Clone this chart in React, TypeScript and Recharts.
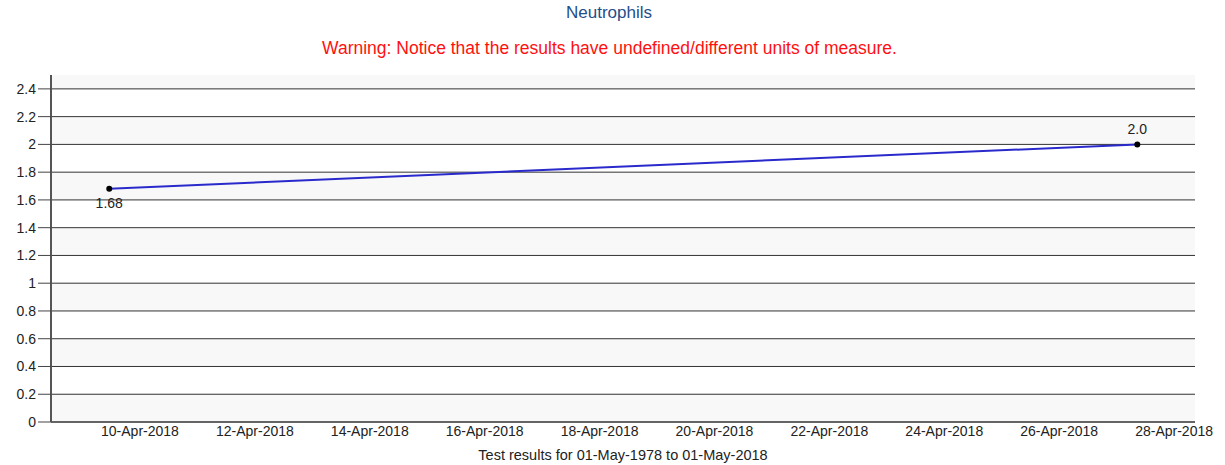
import React from 'react';
import { LineChart, Line, XAxis, YAxis, CartesianGrid, LabelList } from 'recharts';

const chartTitle = 'Neutrophils';
const warningText = 'Warning: Notice that the results have undefined/different units of measure.';
const xAxisTitle = 'Test results for 01-May-1978 to 01-May-2018';

const testDates = ['2018-04-09T11:10:00Z', '2018-04-27T08:38:00Z'];
const results = [1.68, 2.0];
const resultLabels = ['1.68', '2.0'];

const xTickDates = [
  '2018-04-10T00:00:00Z', '2018-04-12T00:00:00Z', '2018-04-14T00:00:00Z', '2018-04-16T00:00:00Z',
  '2018-04-18T00:00:00Z', '2018-04-20T00:00:00Z', '2018-04-22T00:00:00Z', '2018-04-24T00:00:00Z',
  '2018-04-26T00:00:00Z', '2018-04-28T00:00:00Z',
];
const xDomainDates = ['2018-04-08T10:50:00Z', '2018-04-28T08:44:00Z'];
const yTicks = [0, 0.2, 0.4, 0.6, 0.8, 1, 1.2, 1.4, 1.6, 1.8, 2, 2.2, 2.4];
const yDomain = [0, 2.5];
const monthNames = ['Jan', 'Feb', 'Mar', 'Apr', 'May', 'Jun', 'Jul', 'Aug', 'Sep', 'Oct', 'Nov', 'Dec'];

const toTs = (s: string) => new Date(s).getTime();

const data = testDates.map((d, i) => ({ t: toTs(d), v: results[i], label: resultLabels[i] }));

const fmtDate = (ts: number) => {
  const d = new Date(ts);
  const dd = String(d.getUTCDate()).padStart(2, '0');
  return `${dd}-${monthNames[d.getUTCMonth()]}-${d.getUTCFullYear()}`;
};

const FONT = '"Liberation Sans", Arial, sans-serif';

const PointLabel = (props: any) => {
  const { x, y, value, index } = props;
  const below = index === 0;
  return (
    <text
      x={x}
      y={below ? y + 14 : y - 15}
      textAnchor="middle"
      dominantBaseline="central"
      fontFamily={FONT}
      fontSize={14}
      fill="#222"
    >
      {value}
    </text>
  );
};

const mapValues = (args: any, values: number[]) => {
  const s = args?.yAxis?.scale;
  if (typeof s === 'function') return values.map((v) => s(v));
  if (s && typeof s.map === 'function') return values.map((v) => s.map(v));
  const off = args?.offset;
  if (!off) return [];
  const [lo, hi] = yDomain;
  return values.map((v) => off.top + off.height * (1 - (v - lo) / (hi - lo)));
};

const gridLinesFromTicks = (args: any) => mapValues(args, yTicks);
const stripeBounds = (args: any) => mapValues(args, [...yTicks, yDomain[1]]);

export default function App() {
  return (
    <div style={{ position: 'absolute', left: 0, top: 0, width: 1225, height: 465, background: '#fff', fontFamily: FONT }}>
      <LineChart width={1225} height={465} data={data} margin={{ top: 75, right: 30, bottom: 0, left: 0 }}>
        <CartesianGrid
          vertical={false}
          stroke="none"
          horizontalFill={['#f8f8f8', '#ffffff']}
          fillOpacity={1}
          horizontalCoordinatesGenerator={stripeBounds}
        />
        <CartesianGrid
          vertical={false}
          stroke="#333"
          strokeWidth={1}
          horizontalCoordinatesGenerator={gridLinesFromTicks}
        />
        <XAxis
          dataKey="t"
          type="number"
          scale="linear"
          domain={xDomainDates.map(toTs)}
          ticks={xTickDates.map(toTs)}
          tickFormatter={fmtDate}
          allowDataOverflow
          height={43}
          tickLine={false}
          tickSize={0}
          tickMargin={4}
          axisLine={{ stroke: '#555', strokeWidth: 1.5 }}
          tick={{ fill: '#222', fontSize: 14, fontFamily: FONT }}
          interval={0}
        />
        <YAxis
          type="number"
          domain={yDomain}
          ticks={yTicks}
          allowDataOverflow
          width={51}
          tickSize={13}
          tickMargin={2}
          axisLine={{ stroke: '#555', strokeWidth: 2 }}
          tickLine={{ stroke: '#444', strokeWidth: 1 }}
          tick={{ fill: '#222', fontSize: 14, fontFamily: FONT }}
          interval={0}
        />
        <Line
          dataKey="v"
          type="linear"
          stroke="#2a2acc"
          strokeWidth={2}
          dot={{ r: 3, fill: '#000', stroke: '#000', strokeWidth: 0 }}
          activeDot={false}
          isAnimationActive={false}
        >
          <LabelList dataKey="label" content={<PointLabel />} />
        </Line>
      </LineChart>
      <div style={{ position: 'absolute', left: 0, top: 4, width: 1218, textAlign: 'center', fontSize: 17, lineHeight: '17px', color: '#1f4e89' }}>
        {chartTitle}
      </div>
      <div style={{ position: 'absolute', left: 0, top: 40, width: 1219, textAlign: 'center', fontSize: 17.5, lineHeight: '17.5px', color: '#ff1010' }}>
        {warningText}
      </div>
      <div style={{ position: 'absolute', left: 0, top: 448, width: 1246, textAlign: 'center', fontSize: 14.5, lineHeight: '14px', color: '#222' }}>
        {xAxisTitle}
      </div>
    </div>
  );
}
